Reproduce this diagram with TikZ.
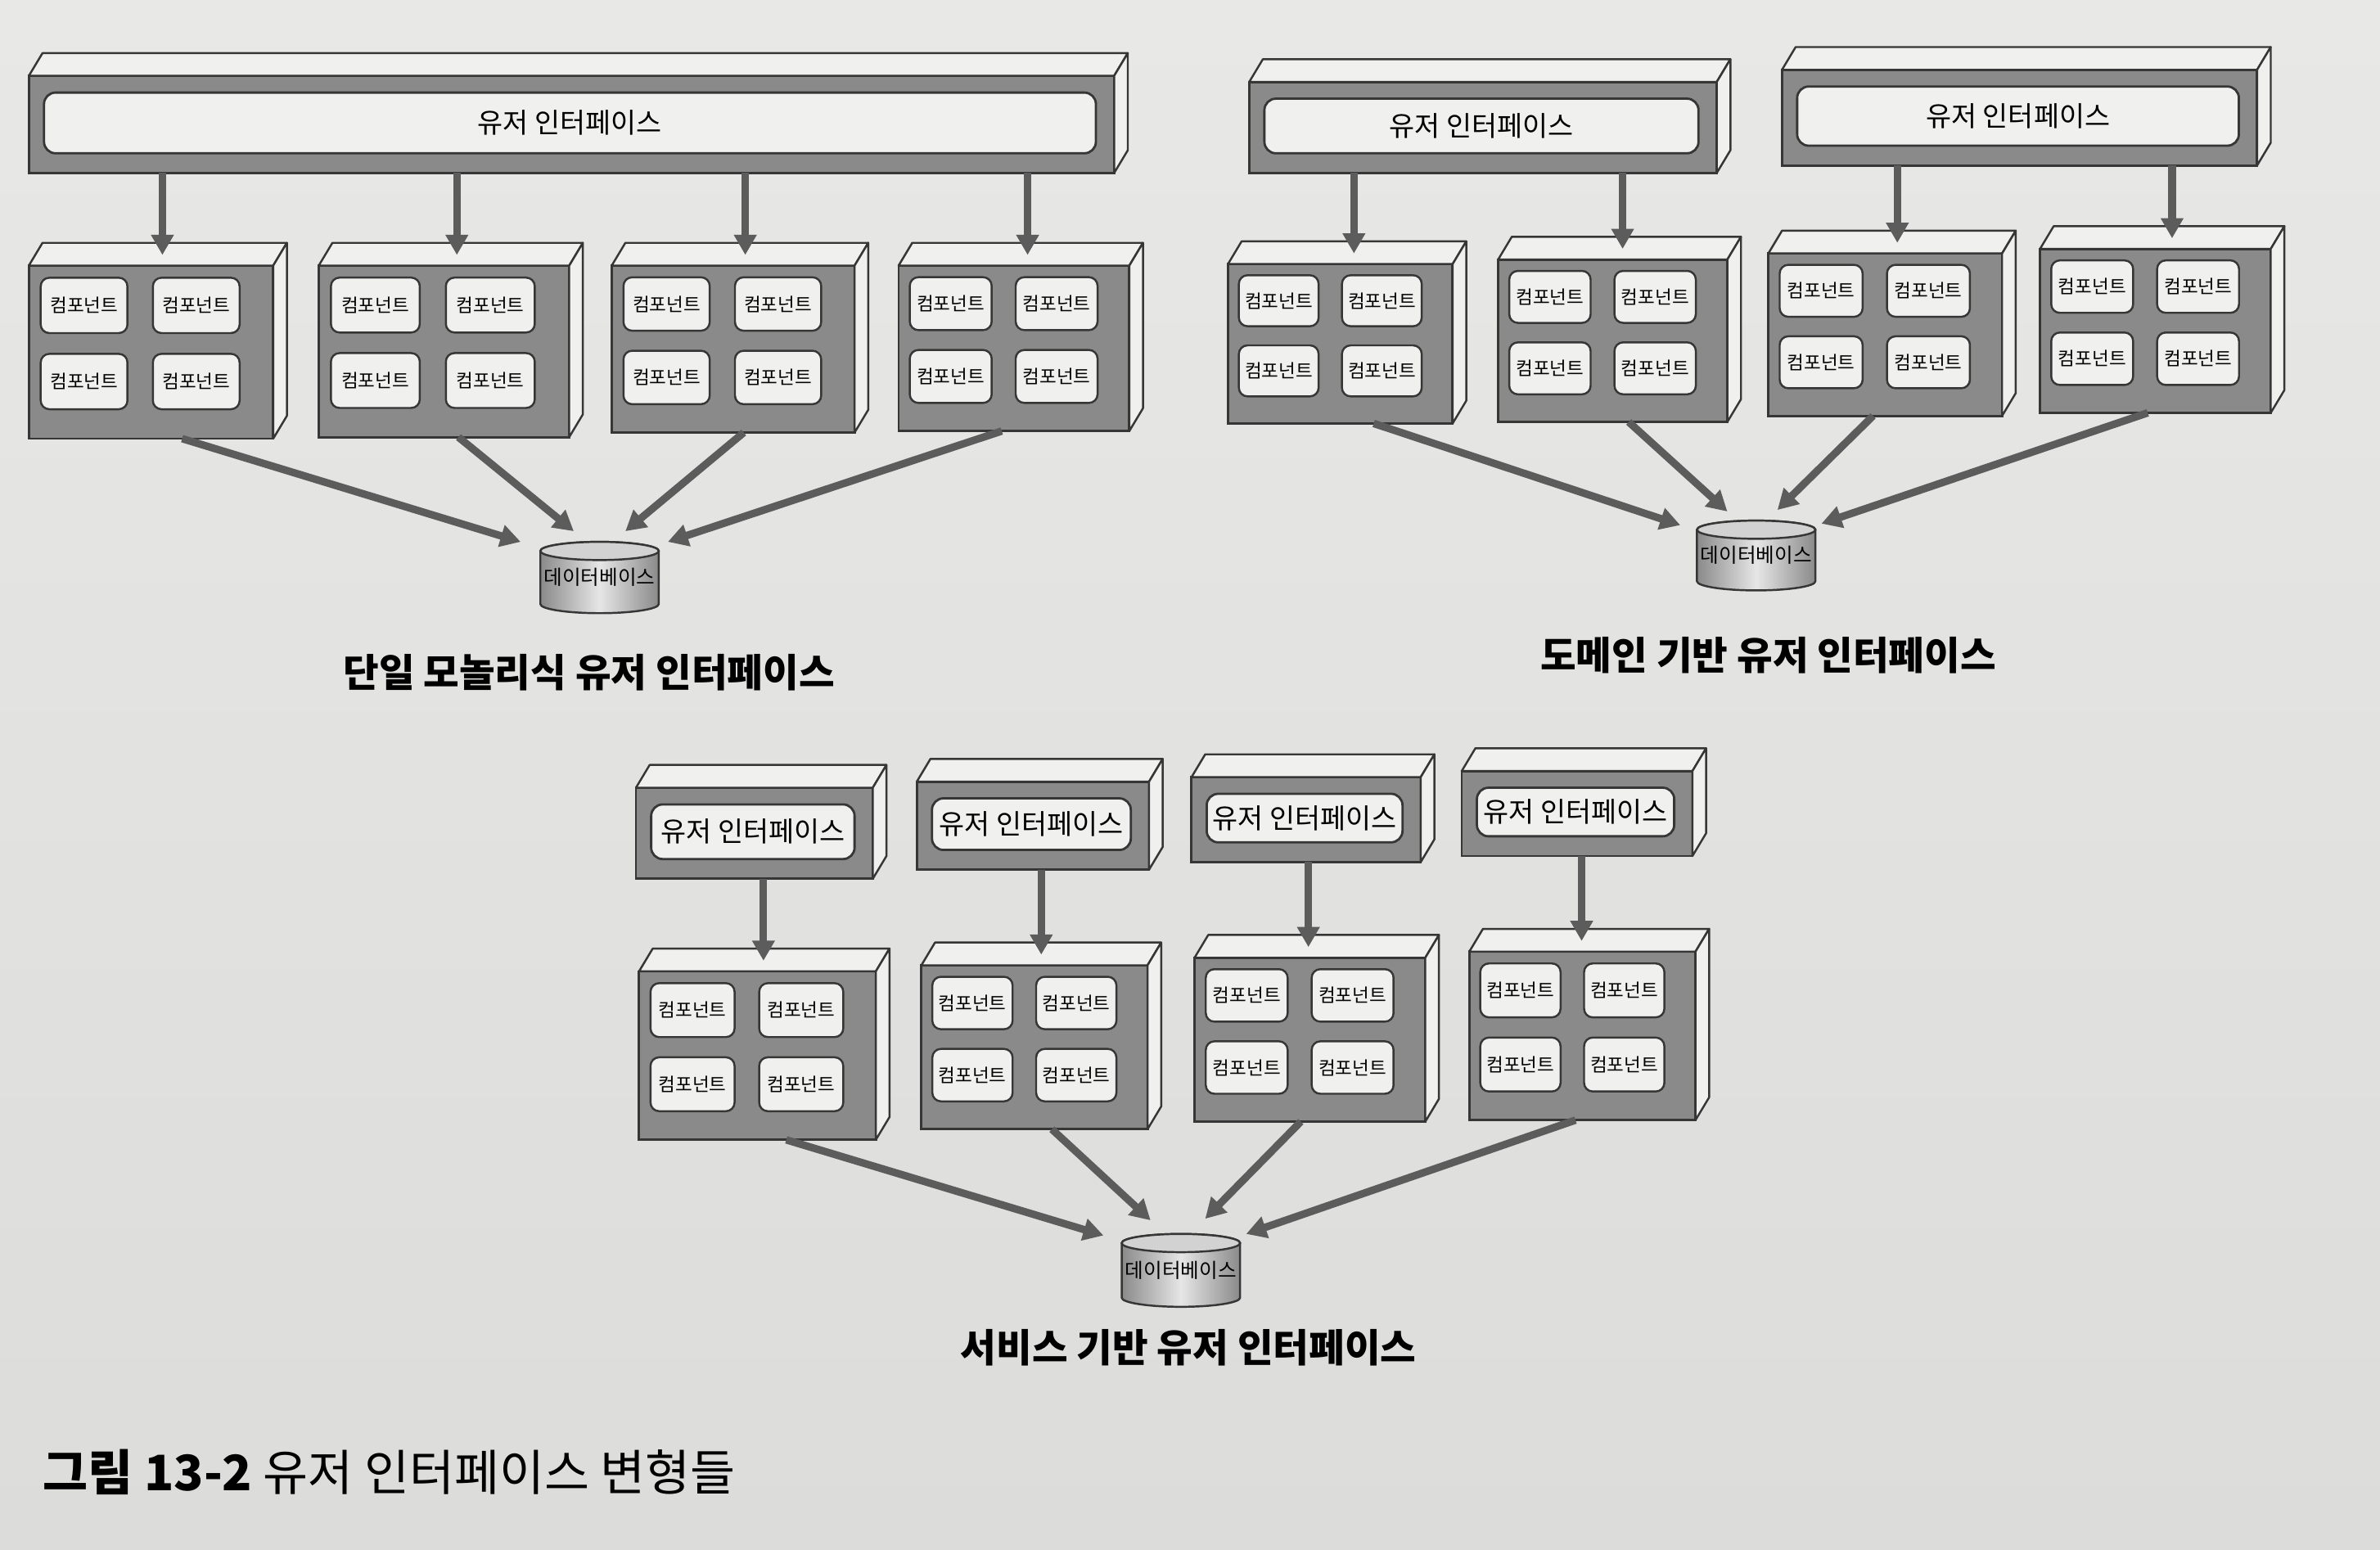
\documentclass[tikz,border=0pt]{standalone}
\usepackage{fontspec}
\setmainfont{Noto Sans CJK KR}
\usetikzlibrary{calc,arrows.meta}
\newlength\pxu \setlength\pxu{0.018546cm}
\definecolor{bgtop}{HTML}{E8E8E6}
\definecolor{bgbot}{HTML}{DCDCDA}
\definecolor{frontc}{HTML}{8A8A8A}
\definecolor{facec}{HTML}{F0F0EE}
\definecolor{edgec}{HTML}{363636}
\definecolor{arrc}{HTML}{5C5C5C}
\definecolor{dbdark}{HTML}{8A8A8A}
\definecolor{dblight}{HTML}{E6E6E6}
\definecolor{dbtop}{HTML}{D2D2D2}
\tikzset{
 front/.style={draw=edgec, fill=frontc, line width=0.8pt, inner sep=0pt, outer sep=0pt, rectangle},
 face/.style={draw=edgec, fill=facec, line width=0.7pt, line join=round},
 comp/.style={draw=edgec, fill=facec, rounded corners=3pt, line width=0.7pt, font=\fontsize{6.4}{7}\selectfont, inner sep=0pt, outer sep=0pt},
 uitext/.style={draw=edgec, fill=facec, rounded corners=4pt, line width=0.8pt, inner sep=0pt, outer sep=0pt, font=\fontsize{9.6}{10}\selectfont},
 arr/.style={draw=arrc, line width=2.6pt, -{Triangle[length=7pt,width=7.5pt]}},
 dbtext/.style={font=\fontsize{7}{8}\selectfont, inner sep=0pt, outer sep=0pt},
 title/.style={font=\bfseries\fontsize{13.5}{15}\selectfont},
}
\newcommand\mkfaces[1]{%
 \filldraw[face] (#1.north west) -- ++(9,15) -- ([shift={(9,15)}]#1.north east) -- (#1.north east) -- cycle;
 \filldraw[face] (#1.north east) -- ++(9,15) -- ([shift={(9,15)}]#1.south east) -- (#1.south east) -- cycle;
}
\newcommand\mkmod[5]{%
 \node[front, anchor=north west, minimum width={(#4-#2)*\pxu}, minimum height={(#5-#3)*\pxu}] (#1) at (#2,-#3) {};
 \mkfaces{#1}
 \pgfmathsetmacro\cxa{#2+0.226*(#4-#2)}
 \pgfmathsetmacro\cxb{#2+0.685*(#4-#2)}
 \pgfmathsetmacro\rya{-(#3+0.23*(#5-#3))}
 \pgfmathsetmacro\ryb{-(#3+0.67*(#5-#3))}
 \pgfmathsetmacro\cw{0.355*(#4-#2)}
 \pgfmathsetmacro\ch{0.32*(#5-#3)}
 \node[comp, minimum width=\cw*\pxu, minimum height=\ch*\pxu] (#1-1) at (\cxa,\rya) {컴포넌트};
 \node[comp, minimum width=\cw*\pxu, minimum height=\ch*\pxu] (#1-2) at (\cxb,\rya) {컴포넌트};
 \node[comp, minimum width=\cw*\pxu, minimum height=\ch*\pxu] (#1-3) at (\cxa,\ryb) {컴포넌트};
 \node[comp, minimum width=\cw*\pxu, minimum height=\ch*\pxu] (#1-4) at (\cxb,\ryb) {컴포넌트};
}
\newcommand\mkui[5]{%
 \node[front, anchor=north west, minimum width={(#4-#2)*\pxu}, minimum height={(#5-#3)*\pxu}] (#1) at (#2,-#3) {};
 \mkfaces{#1}
 \node[uitext, minimum width={((#4-#2)-22)*\pxu}, minimum height={((#5-#3)-24)*\pxu}] (#1-t) at ($(#1.center)+(-1,1)$) {유저 인터페이스};
}
\newcommand\mkdb[4]{%
 \shadedraw[left color=dbdark, right color=dbdark, middle color=dblight, draw=edgec, line width=0.7pt]
   (#2-39,-#3-6) -- (#2-39,-#4+6) arc[start angle=180,end angle=360,x radius=39,y radius=6]
   -- (#2+39,-#3-6) arc[start angle=0,end angle=180,x radius=39,y radius=6] -- cycle;
 \filldraw[fill=dbtop, draw=edgec, line width=0.7pt] (#2,-#3-6) ellipse[x radius=39, y radius=6];
 \node[dbtext, minimum width=78*\pxu, minimum height={(#4-#3)*\pxu}] (#1) at (#2,{-(#3+#4)/2}) {\raisebox{-3pt}{데이터베이스}};
}
\begin{document}
\begin{tikzpicture}[x=0.018546cm, y=0.018546cm]
\shade[top color=bgtop, bottom color=bgbot] (0,0) rectangle (1568,-1021);
\useasboundingbox (0,0) rectangle (1568,-1021);

% ---------- diagram 1: monolithic ----------
\mkui{ui1}{19}{50}{734}{114}
\mkmod{b1}{19}{175}{180}{289}
\mkmod{b2}{210}{175}{375}{288}
\mkmod{b3}{403}{175}{563}{285}
\mkmod{b4}{592}{175}{744}{284}
\mkdb{db1}{395}{357}{404}
\coordinate (ta1) at ($(b1.north west)+(88,7)$);
\coordinate (ta2) at ($(b2.north west)+(91,7)$);
\coordinate (ta3) at ($(b3.north west)+(88,7)$);
\coordinate (ta4) at ($(b4.north west)+(85,7)$);
\draw[arr] (ui1.south -| ta1) -- (ta1);
\draw[arr] (ui1.south -| ta2) -- (ta2);
\draw[arr] (ui1.south -| ta3) -- (ta3);
\draw[arr] (ui1.south -| ta4) -- (ta4);
\draw[arr] ($(b1.south west)+(101,0)$) -- ($(db1.north)+(-52,0)$);
\draw[arr] ($(b2.south west)+(92,0)$) -- ($(db1.north)+(-17,7)$);
\draw[arr] ($(b3.south west)+(87,0)$) -- ($(db1.north)+(17,7)$);
\draw[arr] ($(b4.south west)+(68,0)$) -- ($(db1.north)+(45,0)$);
\node[title] (t1) at (388,-443) {단일 모놀리식 유저 인터페이스};

% ---------- diagram 2: domain-based ----------
\mkui{uiA}{823}{54}{1131}{114}
\mkui{uiB}{1174}{46}{1487}{109}
\mkmod{c1}{809}{174}{957}{279}
\mkmod{c2}{987}{171}{1138}{278}
\mkmod{c3}{1165}{167}{1319}{274}
\mkmod{c4}{1344}{164}{1496}{272}
\mkdb{db2}{1157}{343}{389}
\coordinate (tb1) at ($(c1.north west)+(83,7)$);
\coordinate (tb2) at ($(c2.north west)+(82,7)$);
\coordinate (tb3) at ($(c3.north west)+(85,7)$);
\coordinate (tb4) at ($(c4.north west)+(87,7)$);
\draw[arr] (uiA.south -| tb1) -- (tb1);
\draw[arr] (uiA.south -| tb2) -- (tb2);
\draw[arr] (uiB.south -| tb3) -- (tb3);
\draw[arr] (uiB.south -| tb4) -- (tb4);
\draw[arr] ($(c1.south west)+(96,0)$) -- ($(db2.north)+(-50,-3)$);
\draw[arr] ($(c2.south west)+(86,0)$) -- ($(db2.north)+(-19,6)$);
\draw[arr] ($(c3.south west)+(69,0)$) -- ($(db2.north)+(14,7)$);
\draw[arr] ($(c4.south west)+(71,0)$) -- ($(db2.north)+(43,-2)$);
\node[title] (t2) at (1165,-432) {도메인 기반 유저 인터페이스};

% ---------- diagram 3: service-based ----------
\mkui{u1}{419}{519}{575}{579}
\mkui{u2}{604}{515}{757}{573}
\mkui{u3}{785}{512}{936}{568}
\mkui{u4}{963}{508}{1115}{564}
\mkmod{d1}{421}{640}{577}{751}
\mkmod{d2}{607}{636}{756}{744}
\mkmod{d3}{787}{631}{939}{739}
\mkmod{d4}{968}{627}{1117}{738}
\mkdb{db3}{778}{813}{861}
\coordinate (tc1) at ($(d1.north west)+(82,7)$);
\coordinate (tc2) at ($(d2.north west)+(79,7)$);
\coordinate (tc3) at ($(d3.north west)+(75,7)$);
\coordinate (tc4) at ($(d4.north west)+(74,7)$);
\draw[arr] (u1.south -| tc1) -- (tc1);
\draw[arr] (u2.south -| tc2) -- (tc2);
\draw[arr] (u3.south -| tc3) -- (tc3);
\draw[arr] (u4.south -| tc4) -- (tc4);
\draw[arr] ($(d1.south west)+(97,0)$) -- ($(db3.north)+(-51,-1)$);
\draw[arr] ($(d2.south west)+(86,0)$) -- ($(db3.north)+(-20,9)$);
\draw[arr] ($(d3.south west)+(70,0)$) -- ($(db3.north)+(16,10)$);
\draw[arr] ($(d4.south west)+(70,0)$) -- ($(db3.north)+(43,0)$);
\node[title] (t3) at (783,-888) {서비스 기반 유저 인터페이스};

% ---------- caption ----------
\node[anchor=west, inner sep=0pt, font=\fontsize{17}{19}\selectfont] (cap) at (28,-970) {\textbf{그림 13-2} 유저 인터페이스 변형들};
\end{tikzpicture}
\end{document}
